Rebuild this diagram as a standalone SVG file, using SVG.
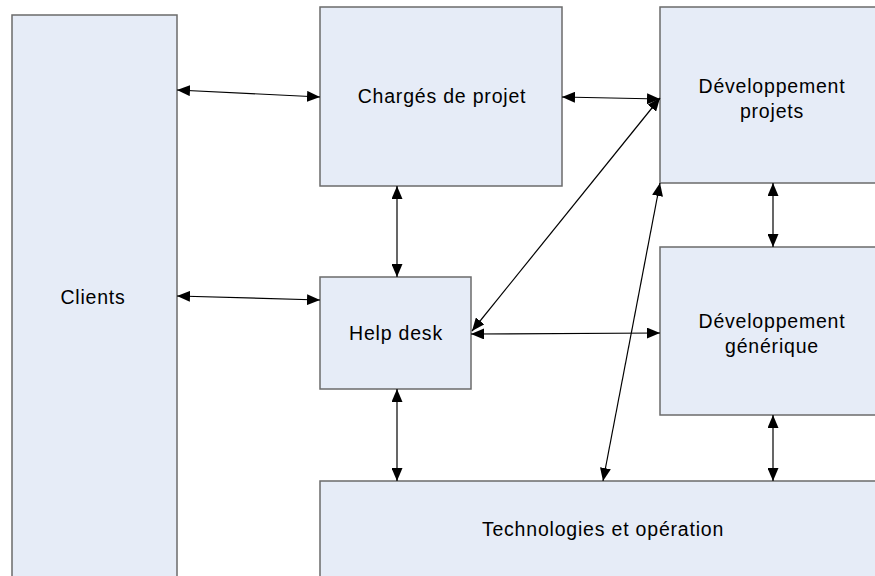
<svg xmlns="http://www.w3.org/2000/svg" width="875" height="576" viewBox="0 0 875 576">
  <style>
    .box { fill: #E6ECF7; stroke: #6B6B6B; stroke-width: 1.5; }
    .lbl { font-family: "Liberation Sans", Arial, sans-serif; font-size: 19.5px; letter-spacing: 0.8px; fill: #000; text-anchor: middle; }
    .link { stroke: #000; stroke-width: 1.2; fill: none; marker-start: url(#arrow); marker-end: url(#arrow); }
  </style>
  <defs>
    <marker id="arrow" viewBox="0 0 13 11" refX="13" refY="5.5" markerWidth="13" markerHeight="11" markerUnits="userSpaceOnUse" orient="auto-start-reverse">
      <path d="M0,0 L13,5.5 L0,11 Z" fill="#000"/>
    </marker>
  </defs>
  <rect width="875" height="576" fill="#fff"/>

  <g id="clients">
    <rect class="box" x="12" y="15" width="165" height="575"/>
    <text class="lbl" x="93" y="304">Clients</text>
  </g>
  <g id="charges-projet">
    <rect class="box" x="320" y="7" width="242" height="179"/>
    <text class="lbl" x="442" y="103">Chargés de projet</text>
  </g>
  <g id="dev-projets">
    <rect class="box" x="660" y="7" width="230" height="176"/>
    <text class="lbl" x="772" y="93">Développement</text>
    <text class="lbl" x="772" y="118">projets</text>
  </g>
  <g id="dev-generique">
    <rect class="box" x="660" y="247" width="230" height="168"/>
    <text class="lbl" x="772" y="328">Développement</text>
    <text class="lbl" x="772" y="353">générique</text>
  </g>
  <g id="help-desk">
    <rect class="box" x="320" y="277" width="151" height="112"/>
    <text class="lbl" x="396" y="340">Help desk</text>
  </g>
  <g id="technologies">
    <rect class="box" x="320" y="481" width="570" height="110"/>
    <text class="lbl" x="603" y="536">Technologies et opération</text>
  </g>

  <g id="connectors">
    <line class="link" x1="177" y1="90" x2="320" y2="97"/>
    <line class="link" x1="177" y1="296" x2="320" y2="300"/>
    <line class="link" x1="562" y1="97" x2="660" y2="99"/>
    <line class="link" x1="397" y1="186" x2="397" y2="277"/>
    <line class="link" x1="471" y1="334" x2="660" y2="333"/>
    <line class="link" x1="472" y1="331" x2="660" y2="98"/>
    <line class="link" x1="397" y1="389" x2="397" y2="481"/>
    <line class="link" x1="660" y1="183" x2="603" y2="481"/>
    <line class="link" x1="773" y1="183" x2="773" y2="247"/>
    <line class="link" x1="773" y1="415" x2="773" y2="481"/>
  </g>
</svg>
